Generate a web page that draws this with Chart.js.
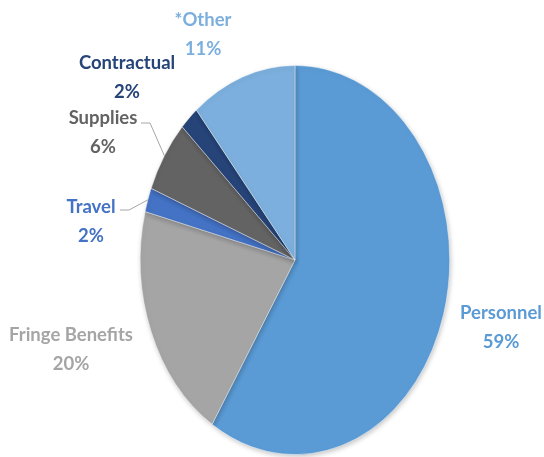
<!DOCTYPE html>
<html>
<head>
<meta charset="utf-8">
<script src="https://cdn.jsdelivr.net/npm/chart.js@4/dist/chart.umd.min.js"></script>
<style>
  html, body { margin: 0; padding: 0; background: #fff; }
  #wrap { width: 544px; height: 457px; }
</style>
</head>
<body>
<div id="wrap"><canvas id="pie" width="544" height="457"></canvas></div>
<script>
// data
const categories = ["Personnel", "Fringe Benefits", "Travel", "Supplies", "Contractual", "*Other"];
const shares = [59, 20, 2, 6, 2, 11];
const sliceColors = ["#5B9BD5", "#A5A5A5", "#4472C4", "#636363", "#264478", "#7CAFDD"];

// label layout (centre of the two text lines), leader line where needed
const labelPos = [
  { x: 501, y: 313 },
  { x: 71, y: 335 },
  { x: 91, y: 207, leader: { x: 120, y: 210 } },
  { x: 103, y: 118, leader: { x: 141, y: 123 } },
  { x: 127, y: 63 },
  { x: 203, y: 20 }
];

const squashX = 0.795; // excel pie is drawn a bit narrow

const ellipsePie = {
  id: "ellipsePie",
  beforeDatasetsDraw(chart) {
    const arc = chart.getDatasetMeta(0).data[0];
    const ctx = chart.ctx;
    ctx.save();
    ctx.translate(arc.x, arc.y);
    ctx.scale(squashX, 1);
    ctx.translate(-arc.x, -arc.y);
    ctx.shadowColor = "rgba(0,0,0,0.22)";
    ctx.shadowBlur = 5;
    ctx.shadowOffsetX = 1;
    ctx.shadowOffsetY = 2;
  },
  afterDatasetsDraw(chart) {
    chart.ctx.restore();
  },
  afterDraw(chart) {
    const ctx = chart.ctx;
    const arcs = chart.getDatasetMeta(0).data;
    ctx.save();
    ctx.textAlign = "center";
    ctx.textBaseline = "middle";
    ctx.font = "bold 18.5px Lato, 'Open Sans', sans-serif";
    arcs.forEach((a, i) => {
      const p = labelPos[i];
      const col = sliceColors[i];
      if (p.leader) {
        const mid = (a.startAngle + a.endAngle) / 2;
        const ex = a.x + Math.cos(mid) * a.outerRadius * squashX;
        const ey = a.y + Math.sin(mid) * a.outerRadius;
        ctx.strokeStyle = "#A6A6A6";
        ctx.lineWidth = 1;
        ctx.beginPath();
        ctx.moveTo(p.leader.x, p.leader.y);
        ctx.lineTo(p.leader.x + 9, p.leader.y);
        ctx.lineTo(ex, ey);
        ctx.stroke();
      }
      ctx.fillStyle = col;
      ctx.fillText(categories[i], p.x, p.y);
      ctx.fillText(shares[i] + "%", p.x, p.y + 29);
    });
    ctx.restore();
  }
};

new Chart(document.getElementById("pie"), {
  type: "pie",
  data: {
    labels: categories,
    datasets: [{
      data: shares,
      backgroundColor: sliceColors,
      borderColor: "rgba(255,255,255,0.6)",
      borderWidth: 0.8
    }]
  },
  options: {
    responsive: false,
    animation: false,
    layout: { padding: { top: 65, bottom: 2, left: 100, right: 54 } },
    plugins: {
      legend: { display: false },
      tooltip: { enabled: false }
    }
  },
  plugins: [ellipsePie]
});
</script>
</body>
</html>
